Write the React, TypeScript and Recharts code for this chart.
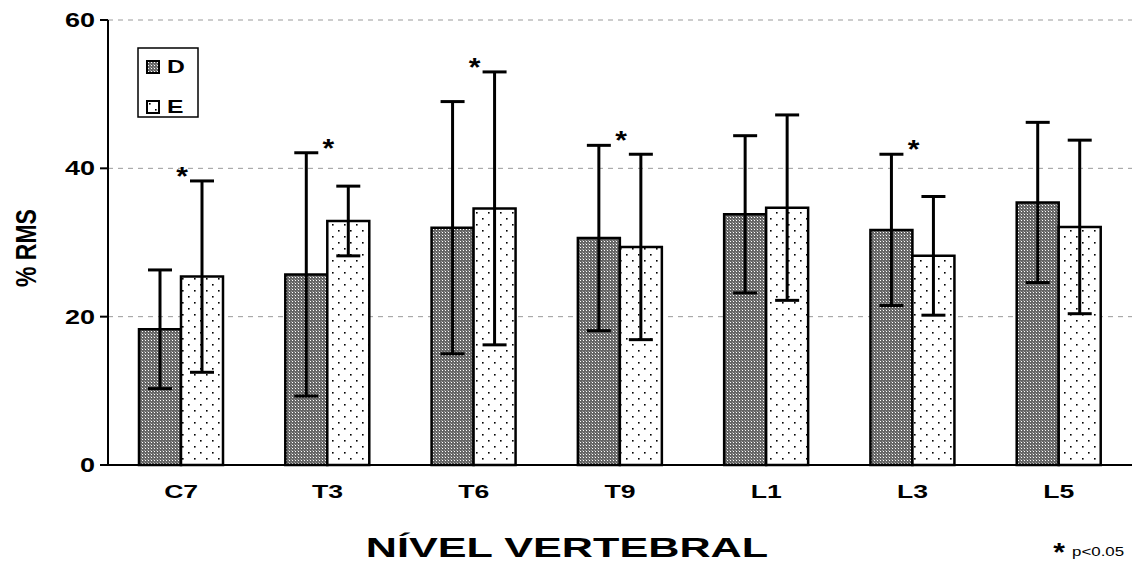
import React from 'react';
import { BarChart, Bar, XAxis, YAxis, CartesianGrid, ErrorBar, ReferenceDot, Label } from 'recharts';

const categories = ['C7', 'T3', 'T6', 'T9', 'L1', 'L3', 'L5'];
const dValues = [18.3, 25.7, 32.0, 30.6, 33.8, 31.7, 35.4];
const dErrors = [8.0, 16.4, 17.0, 12.5, 10.6, 10.2, 10.8];
const eValues = [25.4, 32.9, 34.6, 29.4, 34.7, 28.2, 32.1];
const eErrors = [12.9, 4.7, 18.4, 12.5, 12.5, 8.0, 11.7];
const significant = [true, true, true, true, false, true, false];
const yTicks = [0, 20, 40, 60];
const seriesNames = ['D', 'E'];

const data = categories.map((cat, i) => ({
  cat,
  D: dValues[i],
  dErr: dErrors[i],
  E: eValues[i],
  eErr: eErrors[i],
  top: Math.max(dValues[i] + dErrors[i], eValues[i] + eErrors[i]),
}));

const FONT = '"Liberation Sans", Arial, sans-serif';

const YTick = (props: any) => {
  const { x, y, payload } = props;
  return (
    <text
      transform={`translate(${x},${y + 7}) scale(1.35,1)`}
      textAnchor="end"
      fontFamily={FONT}
      fontWeight="bold"
      fontSize={20}
      fill="#000"
    >
      {payload.value}
    </text>
  );
};

const XTick = (props: any) => {
  const { x, y, payload } = props;
  return (
    <text
      transform={`translate(${x},${y + 33}) scale(1.4,1)`}
      textAnchor="middle"
      fontFamily={FONT}
      fontWeight="bold"
      fontSize={19}
      fill="#000"
    >
      {payload.value}
    </text>
  );
};

const YTitle = () => (
  <text
    transform={`translate(36,248) rotate(-90) scale(1,1.3)`}
    textAnchor="middle"
    fontFamily={FONT}
    fontWeight="bold"
    fontSize={23}
    fill="#000"
  >
    % RMS
  </text>
);

const XTitle = () => (
  <text
    transform={`translate(567,557) scale(1.6,1)`}
    textAnchor="middle"
    fontFamily={FONT}
    fontWeight="bold"
    fontSize={27}
    fill="#000"
  >
    NÍVEL VERTEBRAL
  </text>
);

const Star = (props: any) => {
  const { cx, cy } = props;
  return (
    <text
      transform={`translate(${cx + 1},${cy + 4}) scale(1.2,1)`}
      textAnchor="middle"
      fontFamily={FONT}
      fontWeight="bold"
      fontSize={25}
      fill="#000"
    >
      *
    </text>
  );
};

const patterns = ['url(#patD)', 'url(#patE)'];

export default function App() {
  return (
    <div style={{ position: 'absolute', left: 0, top: 0, width: 1142, height: 569, background: '#fff' }}>
      <BarChart
        width={1142}
        height={569}
        data={data}
        margin={{ top: 20, right: 10, left: 0, bottom: 44 }}
        barCategoryGap={31}
        barGap={0}
      >
        <defs>
          <pattern id="patD" width={3} height={3} patternUnits="userSpaceOnUse">
            <rect width={3} height={3} fill="#666" />
            <rect x={1} y={1} width={1} height={1} fill="#ffffff" />
            <rect x={0} y={0} width={1} height={1} fill="#999" />
          </pattern>
          <pattern id="patE" width={12} height={12} patternUnits="userSpaceOnUse">
            <rect width={12} height={12} fill="#fff" />
            <rect x={2} y={2} width={1.6} height={1.6} fill="#000" />
            <rect x={8} y={8} width={1.6} height={1.6} fill="#000" />
          </pattern>
        </defs>
        <CartesianGrid vertical={false} stroke="#9a9a9a" strokeDasharray="5 5" />
        <XAxis
          dataKey="cat"
          tickLine={false}
          axisLine={{ stroke: '#000', strokeWidth: 2 }}
          tick={<XTick />}
          tickSize={0}
          tickMargin={0}
          height={60}
          interval={0}
        >
          <Label content={<XTitle />} />
        </XAxis>
        <YAxis
          width={108}
          domain={[0, 60]}
          ticks={yTicks}
          interval={0}
          tickSize={8}
          tickMargin={5}
          tickLine={{ stroke: '#000', strokeWidth: 2 }}
          axisLine={{ stroke: '#000', strokeWidth: 2 }}
          tick={<YTick />}
        >
          <Label content={<YTitle />} />
        </YAxis>
        <Bar dataKey="D" fill="url(#patD)" stroke="#000" strokeWidth={2.5} isAnimationActive={false}>
          <ErrorBar dataKey="dErr" width={12} stroke="#000" strokeWidth={3} direction="y" />
        </Bar>
        <Bar dataKey="E" fill="url(#patE)" stroke="#000" strokeWidth={2.5} isAnimationActive={false}>
          <ErrorBar dataKey="eErr" width={12} stroke="#000" strokeWidth={3} direction="y" />
        </Bar>
        {data.map((d, i) =>
          significant[i] ? (
            <ReferenceDot key={d.cat} x={d.cat} y={d.top} r={0} shape={<Star />} ifOverflow="visible" />
          ) : null
        )}
      </BarChart>
      <svg width={1142} height={569} style={{ position: 'absolute', left: 0, top: 0, pointerEvents: 'none' }}>
        <rect x={138} y={48} width={60} height={69} fill="#fff" stroke="#000" strokeWidth={1.5} />
        {seriesNames.map((name, i) => (
          <g key={name} transform={`translate(147,${61 + i * 40})`}>
            <rect x={0} y={0} width={12} height={12} fill={patterns[i]} stroke="#000" strokeWidth={2} />
            <text
              transform={`translate(20,12) scale(1.3,1)`}
              fontFamily={FONT}
              fontWeight="bold"
              fontSize={19}
              fill="#000"
            >
              {name}
            </text>
          </g>
        ))}
        <text transform="translate(1059,561) scale(1.2,1)" textAnchor="middle" fontFamily={FONT} fontWeight="bold" fontSize={25} fill="#000">*</text>
        <text transform="translate(1072,556) scale(1.3,1)" fontFamily={FONT} fontSize={13} fill="#000">p&lt;0.05</text>
      </svg>
    </div>
  );
}
